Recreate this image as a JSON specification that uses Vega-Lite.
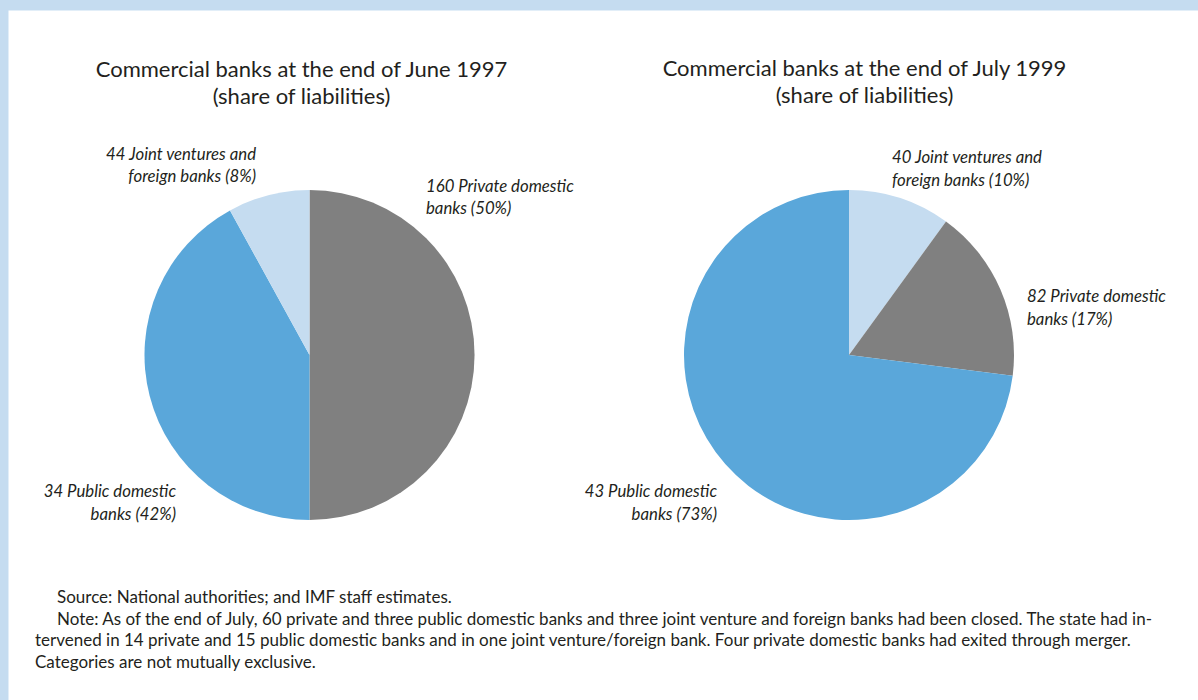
{
  "$schema": "https://vega.github.io/schema/vega-lite/v6.json",
  "width": 1198,
  "height": 700,
  "autosize": {"type": "fit", "contains": "padding"},
  "padding": {"top": 10, "left": 8, "right": 0, "bottom": 0},
  "background": "#c5dcf0",
  "view": {"fill": "#ffffff", "stroke": "transparent"},
  "config": {
    "view": {"fill": "#ffffff", "stroke": "transparent"},
    "text": {"font": "Lato", "color": "#231f20", "lineBreak": "\n"}
  },
  "datasets": {
    "banks": [
      {"chart": "June 1997", "category": "Private domestic banks", "banks": 160, "share": 50, "order": 1, "label": "160 Private domestic\nbanks (50%)"},
      {"chart": "June 1997", "category": "Public domestic banks", "banks": 34, "share": 42, "order": 2, "label": "34 Public domestic\nbanks (42%)"},
      {"chart": "June 1997", "category": "Joint ventures and foreign banks", "banks": 44, "share": 8, "order": 3, "label": "44 Joint ventures and\nforeign banks (8%)"},
      {"chart": "July 1999", "category": "Joint ventures and foreign banks", "banks": 40, "share": 10, "order": 1, "label": "40 Joint ventures and\nforeign banks (10%)"},
      {"chart": "July 1999", "category": "Private domestic banks", "banks": 82, "share": 17, "order": 2, "label": "82 Private domestic\nbanks (17%)"},
      {"chart": "July 1999", "category": "Public domestic banks", "banks": 43, "share": 73, "order": 3, "label": "43 Public domestic\nbanks (73%)"}
    ],
    "charts": [
      {"chart": "June 1997", "title": "Commercial banks at the end of June 1997\n(share of liabilities)"},
      {"chart": "July 1999", "title": "Commercial banks at the end of July 1999\n(share of liabilities)"}
    ],
    "notes": [
      {"part": "a", "text": "Source: National authorities; and IMF staff estimates.\nNote:  As of the end of July, 60 private and three public domestic banks and three joint venture and foreign banks had been closed. The state had in-"},
      {"part": "b", "text": "tervened in 14 private and 15 public domestic banks and in one joint venture/foreign bank. Four private domestic banks had exited through merger.\nCategories are not mutually exclusive."}
    ]
  },
  "layer": [
    {
      "data": {"name": "banks"},
      "transform": [
        {"stack": "share", "groupby": ["chart"], "sort": [{"field": "order"}], "as": ["s0", "s1"]}
      ],
      "mark": {"type": "arc", "outerRadius": 165},
      "encoding": {
        "x": {"field": "chart", "type": "nominal", "scale": {"type": "point", "domain": ["June 1997", "July 1999"], "range": [301.5, 841], "padding": 0}, "axis": null},
        "theta": {"field": "s0", "type": "quantitative", "scale": {"domain": [0, 100]}},
        "theta2": {"field": "s1"},
        "color": {"field": "category", "type": "nominal", "scale": {"domain": ["Private domestic banks", "Public domestic banks", "Joint ventures and foreign banks"], "range": ["#808080", "#5aa7da", "#c5dcf0"]}, "legend": null}
      }
    },
    {
      "data": {"name": "banks"},
      "transform": [{"filter": "datum.chart == 'June 1997' && datum.order == 3"}],
      "mark": {"type": "text", "align": "right", "baseline": "middle", "fontStyle": "italic", "fontSize": 16.75, "lineHeight": 22, "dx": -53.5, "dy": -200},
      "encoding": {"x": {"field": "chart", "type": "nominal"}, "text": {"field": "label"}}
    },
    {
      "data": {"name": "banks"},
      "transform": [{"filter": "datum.chart == 'June 1997' && datum.order == 1"}],
      "mark": {"type": "text", "align": "left", "baseline": "middle", "fontStyle": "italic", "fontSize": 16.75, "lineHeight": 22, "dx": 116.5, "dy": -168},
      "encoding": {"x": {"field": "chart", "type": "nominal"}, "text": {"field": "label"}}
    },
    {
      "data": {"name": "banks"},
      "transform": [{"filter": "datum.chart == 'June 1997' && datum.order == 2"}],
      "mark": {"type": "text", "align": "right", "baseline": "middle", "fontStyle": "italic", "fontSize": 16.75, "lineHeight": 23, "dx": -133.5, "dy": 137},
      "encoding": {"x": {"field": "chart", "type": "nominal"}, "text": {"field": "label"}}
    },
    {
      "data": {"name": "banks"},
      "transform": [{"filter": "datum.chart == 'July 1999' && datum.order == 1"}],
      "mark": {"type": "text", "align": "left", "baseline": "middle", "fontStyle": "italic", "fontSize": 16.75, "lineHeight": 23, "dx": 43, "dy": -197},
      "encoding": {"x": {"field": "chart", "type": "nominal"}, "text": {"field": "label"}}
    },
    {
      "data": {"name": "banks"},
      "transform": [{"filter": "datum.chart == 'July 1999' && datum.order == 2"}],
      "mark": {"type": "text", "align": "left", "baseline": "middle", "fontStyle": "italic", "fontSize": 16.75, "lineHeight": 23, "dx": 178, "dy": -58},
      "encoding": {"x": {"field": "chart", "type": "nominal"}, "text": {"field": "label"}}
    },
    {
      "data": {"name": "banks"},
      "transform": [{"filter": "datum.chart == 'July 1999' && datum.order == 3"}],
      "mark": {"type": "text", "align": "right", "baseline": "middle", "fontStyle": "italic", "fontSize": 16.75, "lineHeight": 23, "dx": -132, "dy": 137},
      "encoding": {"x": {"field": "chart", "type": "nominal"}, "text": {"field": "label"}}
    },
    {
      "data": {"name": "charts"},
      "transform": [{"filter": "datum.chart == 'June 1997'"}],
      "mark": {"type": "text", "align": "center", "baseline": "middle", "fontSize": 22, "lineHeight": 27, "dx": -8, "dy": -285},
      "encoding": {"x": {"field": "chart", "type": "nominal"}, "text": {"field": "title"}}
    },
    {
      "data": {"name": "charts"},
      "transform": [{"filter": "datum.chart == 'July 1999'"}],
      "mark": {"type": "text", "align": "center", "baseline": "middle", "fontSize": 22, "lineHeight": 27, "dx": 15.5, "dy": -286},
      "encoding": {"x": {"field": "chart", "type": "nominal"}, "text": {"field": "title"}}
    },
    {
      "data": {"name": "notes"},
      "transform": [{"filter": "datum.part == 'a'"}],
      "mark": {"type": "text", "align": "left", "baseline": "middle", "fontSize": 17, "lineHeight": 21.5, "dx": -546, "dy": 243},
      "encoding": {"text": {"field": "text"}}
    },
    {
      "data": {"name": "notes"},
      "transform": [{"filter": "datum.part == 'b'"}],
      "mark": {"type": "text", "align": "left", "baseline": "middle", "fontSize": 17, "lineHeight": 21.5, "dx": -568, "dy": 286},
      "encoding": {"text": {"field": "text"}}
    }
  ]
}
